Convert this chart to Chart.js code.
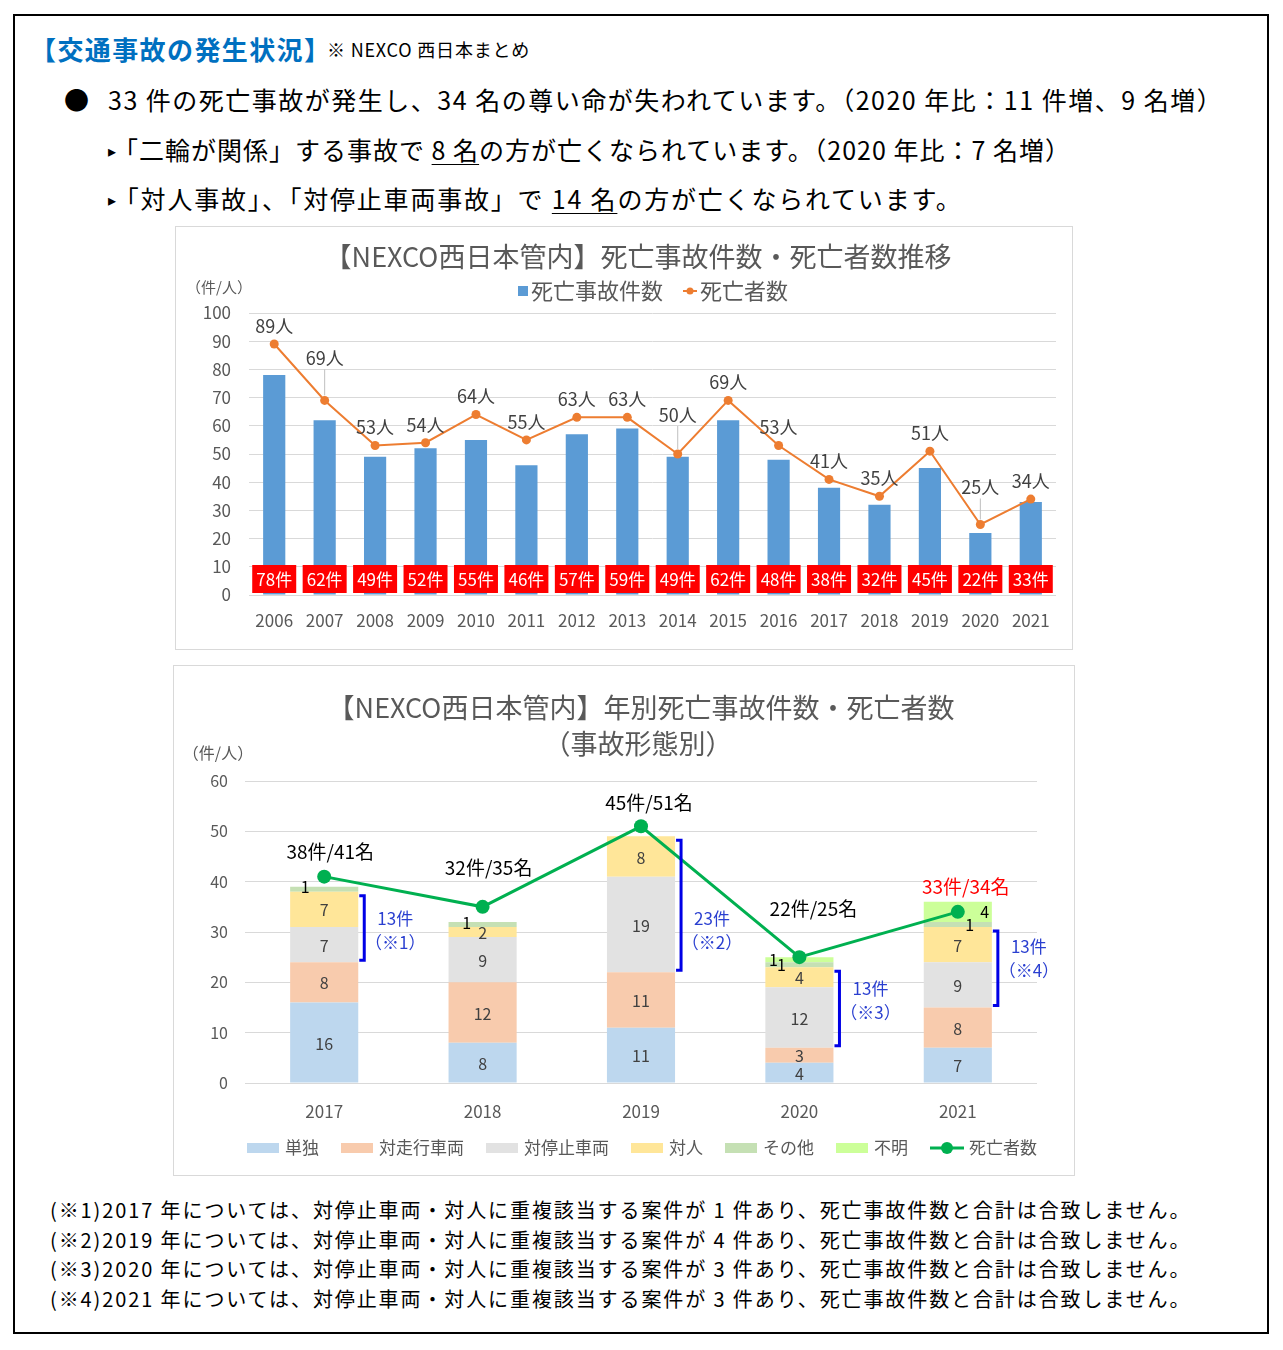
<!DOCTYPE html>
<html lang="ja">
<head>
<meta charset="utf-8">
<title>交通事故の発生状況</title>
<script src="https://cdn.jsdelivr.net/npm/chart.js@4.4.1/dist/chart.umd.min.js"></script>
<style>
  body { margin: 0; background: #fff; font-family: "Noto Sans CJK JP", sans-serif; }
  #page { position: relative; width: 1283px; height: 1350px; overflow: hidden; }
  #frame { position: absolute; left: 13px; top: 14px; width: 1256px; height: 1320px; border: 2px solid #000; box-sizing: border-box; }
  .t { position: absolute; white-space: nowrap; color: #000; line-height: 1; }
  .box { position: absolute; border: 1px solid #D9D9D9; box-sizing: border-box; }
  .box canvas { position: absolute; left: -1px; top: -1px; }
  .note { font-size: 20px; letter-spacing: 1.9px; }
  .tri { font-size: 16px; position: relative; top: -3px; margin-right: -4px; }
  u { text-underline-offset: 4px; text-decoration-thickness: 1px; }
</style>
</head>
<body>
<div id="page">
  <div id="frame"></div>

  <div class="t" style="left:30px; top:36px; font-size:26px; font-weight:bold; color:#0070C0; letter-spacing:1.4px;">【交通事故の発生状況】</div>
  <div class="t" style="left:327px; top:40px; font-size:18px; letter-spacing:0.8px;">※ NEXCO 西日本まとめ</div>

  <div class="t" style="left:64px; top:87px; font-size:25px;">●</div>
  <div class="t" style="left:108px; top:87px; font-size:25px; letter-spacing:1.5px;">33 件の死亡事故が発生し、34 名の尊い命が失われています。（2020 年比：11 件増、9 名増）</div>
  <div class="t" style="left:108px; top:137px; font-size:25px; letter-spacing:1px;"><span class="tri">▸</span>「二輪が関係」する事故で <u>8 名</u>の方が亡くなられています。（2020 年比：7 名増）</div>
  <div class="t" style="left:108px; top:186px; font-size:25px; letter-spacing:1.8px;"><span class="tri">▸</span>「対人事故」、「対停止車両事故」で <u>14 名</u>の方が亡くなられています。</div>

  <div class="box" style="left:175px; top:226px; width:898px; height:424px;">
    <canvas id="trendChart" width="898" height="424"></canvas>
  </div>

  <div class="box" style="left:173px; top:665px; width:902px; height:511px;">
    <canvas id="typeChart" width="902" height="511"></canvas>
  </div>

  <div class="t note" style="left:50px; top:1200px;">(※1)2017 年については、対停止車両・対人に重複該当する案件が 1 件あり、死亡事故件数と合計は合致しません。</div>
  <div class="t note" style="left:50px; top:1230px;">(※2)2019 年については、対停止車両・対人に重複該当する案件が 4 件あり、死亡事故件数と合計は合致しません。</div>
  <div class="t note" style="left:50px; top:1259px;">(※3)2020 年については、対停止車両・対人に重複該当する案件が 3 件あり、死亡事故件数と合計は合致しません。</div>
  <div class="t note" style="left:50px; top:1289px;">(※4)2021 年については、対停止車両・対人に重複該当する案件が 3 件あり、死亡事故件数と合計は合致しません。</div>
</div>

<script>
// ---- data: chart 1 (推移) ----
const years1 = ['2006','2007','2008','2009','2010','2011','2012','2013','2014','2015','2016','2017','2018','2019','2020','2021'];
const accidents1 = [78, 62, 49, 52, 55, 46, 57, 59, 49, 62, 48, 38, 32, 45, 22, 33];
const deaths1 = [89, 69, 53, 54, 64, 55, 63, 63, 50, 69, 53, 41, 35, 51, 25, 34];

// ---- data: chart 2 (事故形態別) ----
const years2 = ['2017','2018','2019','2020','2021'];
const single = [16, 8, 11, 4, 7];
const vsMoving = [8, 12, 11, 3, 8];
const vsStopped = [7, 9, 19, 12, 9];
const vsPerson = [7, 2, 8, 4, 7];
const other = [1, 1, 0, 1, 1];
const unknown = [0, 0, 0, 1, 4];
const accidents2 = [38, 32, 45, 22, 33];
const deaths2 = [41, 35, 51, 25, 34];
const overlapCounts = [13, null, 23, 13, 13];
const overlapNotes = ['※1', null, '※2', '※3', '※4'];

const FONT = "'Noto Sans CJK JP', sans-serif";
Chart.defaults.font.family = FONT;

function font(size, weight) {
    return (weight || 'normal') + ' ' + size + 'px ' + FONT;
}

// labels, red boxes, title and legend for the first chart
const trendPlugin = {
    id: 'trendLabels',
    afterDatasetsDraw(chart) {
        const ctx = chart.ctx;
        const y0 = chart.scales.y.getPixelForValue(0);
        ctx.save();
        ctx.textAlign = 'center';
        ctx.textBaseline = 'middle';

        // red count boxes
        chart.getDatasetMeta(0).data.forEach((bar, i) => {
            ctx.fillStyle = '#FF0000';
            ctx.fillRect(bar.x - 22, y0 - 30, 44, 28);
            ctx.fillStyle = '#fff';
            ctx.font = font(17);
            ctx.fillText(accidents1[i] + '件', bar.x, y0 - 15);
        });

        // death labels (some lifted with a leader line)
        const lifted = { 1: 42, 8: 39, 14: 37 };
        chart.getDatasetMeta(1).data.forEach((pt, i) => {
            const off = lifted[i] || 18;
            if (lifted[i]) {
                ctx.strokeStyle = '#BFBFBF';
                ctx.lineWidth = 1;
                ctx.beginPath();
                ctx.moveTo(pt.x, pt.y - off + 11);
                ctx.lineTo(pt.x, pt.y - 5);
                ctx.stroke();
            }
            ctx.fillStyle = '#404040';
            ctx.font = font(18);
            ctx.fillText(deaths1[i] + '人', pt.x, pt.y - off);
        });
        ctx.restore();
    },
    afterDraw(chart) {
        const ctx = chart.ctx;
        ctx.save();
        ctx.textBaseline = 'middle';
        ctx.fillStyle = '#595959';
        ctx.textAlign = 'center';
        ctx.font = font(27);
        ctx.fillText('【NEXCO西日本管内】死亡事故件数・死亡者数推移', 463, 31);

        ctx.font = font(15);
        ctx.fillText('（件/人）', 44, 61);

        // legend
        ctx.font = font(22);
        ctx.textAlign = 'left';
        const t1 = '死亡事故件数', t2 = '死亡者数';
        const w = 10 + 3 + ctx.measureText(t1).width + 20 + 14 + 3 + ctx.measureText(t2).width;
        let x = 478 - w / 2;
        const y = 65;
        ctx.fillStyle = '#5B9BD5';
        ctx.fillRect(x, y - 5, 10, 10);
        x += 13;
        ctx.fillStyle = '#595959';
        ctx.fillText(t1, x, y);
        x += ctx.measureText(t1).width + 20;
        ctx.strokeStyle = '#ED7D31';
        ctx.lineWidth = 2;
        ctx.beginPath();
        ctx.moveTo(x, y);
        ctx.lineTo(x + 14, y);
        ctx.stroke();
        ctx.fillStyle = '#ED7D31';
        ctx.beginPath();
        ctx.arc(x + 7, y, 3.5, 0, Math.PI * 2);
        ctx.fill();
        x += 17;
        ctx.fillStyle = '#595959';
        ctx.fillText(t2, x, y);
        ctx.restore();
    }
};

new Chart(document.getElementById('trendChart'), {
    type: 'bar',
    data: {
        labels: years1,
        datasets: [{
            label: '死亡事故件数',
            data: accidents1,
            backgroundColor: '#5B9BD5',
            barPercentage: 0.44,
            categoryPercentage: 1,
            order: 1
        }, {
            type: 'line',
            label: '死亡者数',
            data: deaths1,
            borderColor: '#ED7D31',
            backgroundColor: '#ED7D31',
            borderWidth: 2,
            pointRadius: 4.5,
            pointBorderWidth: 0,
            tension: 0,
            order: 0
        }]
    },
    options: {
        responsive: false,
        animation: false,
        layout: { padding: { top: 87, right: 17, left: 0, bottom: 0 } },
        plugins: { legend: { display: false }, tooltip: { enabled: false } },
        scales: {
            x: {
                grid: { display: false, drawTicks: false },
                border: { display: false },
                ticks: { color: '#595959', font: { size: 17 }, padding: 15 },
                afterFit(scale) { scale.height = 55; }
            },
            y: {
                min: 0, max: 100,
                ticks: { stepSize: 10, color: '#595959', font: { size: 17 }, padding: 18 },
                grid: { color: '#D9D9D9', drawTicks: false },
                border: { display: false },
                afterFit(scale) { scale.width = 74; }
            }
        }
    },
    plugins: [trendPlugin]
});

// labels, brackets, title and legend for the second chart
const typePlugin = {
    id: 'typeLabels',
    afterDatasetsDraw(chart) {
        const ctx = chart.ctx;
        ctx.save();
        ctx.textAlign = 'center';
        ctx.textBaseline = 'middle';

        // values inside the main segments
        [0, 1, 2, 3].forEach(d => {
            const vals = chart.data.datasets[d].data;
            chart.getDatasetMeta(d).data.forEach((bar, i) => {
                if (!vals[i]) return;
                ctx.fillStyle = '#404040';
                ctx.font = font(16);
                ctx.fillText(vals[i], bar.x, (bar.y + bar.base) / 2 + 1);
            });
        });

        // small segments (その他 / 不明), placed beside
        const sideOff = { 4: [-19, -16, 0, -18, 12], 5: [0, 0, 0, -26, 27] };
        [4, 5].forEach(d => {
            const vals = chart.data.datasets[d].data;
            chart.getDatasetMeta(d).data.forEach((bar, i) => {
                if (!vals[i]) return;
                ctx.fillStyle = '#000';
                ctx.font = font(16);
                const dy = d === 4 && i < 2 ? -2 : 0;
                ctx.fillText(vals[i], bar.x + sideOff[d][i], (bar.y + bar.base) / 2 + dy);
            });
        });

        // blue brackets for 対停止車両 + 対人
        const stopped = chart.getDatasetMeta(2).data;
        const person = chart.getDatasetMeta(3).data;
        const textShift = [2, 0, 24, -9, -11];
        overlapCounts.forEach((n, i) => {
            if (!n) return;
            const right = person[i].x + person[i].width / 2;
            const top = person[i].y + 4;
            const bottom = stopped[i].base - 2;
            const vx = right + 6;
            ctx.strokeStyle = '#0000E6';
            ctx.lineWidth = 3;
            ctx.beginPath();
            ctx.moveTo(right + 1, top);
            ctx.lineTo(vx, top);
            ctx.lineTo(vx, bottom);
            ctx.lineTo(right + 1, bottom);
            ctx.stroke();
            const mid = (top + bottom) / 2 + textShift[i];
            ctx.fillStyle = '#2A3FD0';
            ctx.font = font(17);
            ctx.fillText(n + '件', vx + 31, mid - 11);
            ctx.fillText('（' + overlapNotes[i] + '）', vx + 31, mid + 13);
        });

        // 件/名 labels over the line
        const lift = [25, 39, 24, 48, 25];
        const shift = [6, 6, 8, 14, 8];
        chart.getDatasetMeta(6).data.forEach((pt, i) => {
            ctx.fillStyle = i === years2.length - 1 ? '#FF0000' : '#000';
            ctx.font = font(19);
            ctx.fillText(accidents2[i] + '件/' + deaths2[i] + '名', pt.x + shift[i], pt.y - lift[i]);
        });
        ctx.restore();
    },
    afterDraw(chart) {
        const ctx = chart.ctx;
        ctx.save();
        ctx.textBaseline = 'middle';
        ctx.textAlign = 'center';
        ctx.fillStyle = '#595959';
        ctx.font = font(27);
        ctx.fillText('【NEXCO西日本管内】年別死亡事故件数・死亡者数', 468, 43);
        ctx.fillText('（事故形態別）', 465, 79);
        ctx.font = font(16);
        ctx.fillText('（件/人）', 45, 88);

        // legend
        ctx.font = font(17);
        ctx.textAlign = 'left';
        const items = chart.data.datasets.map(ds => ({
            text: ds.label,
            color: ds.backgroundColor,
            line: ds.type === 'line'
        }));
        let w = 0;
        items.forEach((it, k) => {
            w += (it.line ? 34 + 5 : 32 + 6) + ctx.measureText(it.text).width + (k ? 22 : 0);
        });
        let x = 469 - w / 2;
        const y = 483;
        items.forEach(it => {
            if (it.line) {
                ctx.strokeStyle = it.color;
                ctx.lineWidth = 3;
                ctx.beginPath();
                ctx.moveTo(x, y);
                ctx.lineTo(x + 34, y);
                ctx.stroke();
                ctx.fillStyle = it.color;
                ctx.beginPath();
                ctx.arc(x + 17, y, 6, 0, Math.PI * 2);
                ctx.fill();
                x += 39;
            } else {
                ctx.fillStyle = it.color;
                ctx.fillRect(x, y - 5, 32, 10);
                x += 38;
            }
            ctx.fillStyle = '#595959';
            ctx.fillText(it.text, x, y);
            x += ctx.measureText(it.text).width + 22;
        });
        ctx.restore();
    }
};

function stackSet(label, data, color) {
    return {
        label: label,
        data: data,
        backgroundColor: color,
        stack: 'types',
        barPercentage: 0.43,
        categoryPercentage: 1,
        order: 1
    };
}

new Chart(document.getElementById('typeChart'), {
    type: 'bar',
    data: {
        labels: years2,
        datasets: [
            stackSet('単独', single, '#BDD7EE'),
            stackSet('対走行車両', vsMoving, '#F8CBAD'),
            stackSet('対停止車両', vsStopped, '#E2E2E2'),
            stackSet('対人', vsPerson, '#FFE699'),
            stackSet('その他', other, '#C5E0B4'),
            stackSet('不明', unknown, '#CCFF99'),
            {
                type: 'line',
                label: '死亡者数',
                data: deaths2,
                stack: 'deaths',
                borderColor: '#00B050',
                backgroundColor: '#00B050',
                borderWidth: 3,
                pointRadius: 7,
                pointBorderWidth: 0,
                tension: 0,
                order: 0
            }
        ]
    },
    options: {
        responsive: false,
        animation: false,
        layout: { padding: { top: 116, right: 38, left: 0, bottom: 0 } },
        plugins: { legend: { display: false }, tooltip: { enabled: false } },
        scales: {
            x: {
                stacked: true,
                grid: { display: false, drawTicks: false },
                border: { display: false },
                ticks: { color: '#595959', font: { size: 17 }, padding: 18 },
                afterFit(scale) { scale.height = 93; }
            },
            y: {
                stacked: true,
                min: 0, max: 60,
                ticks: { stepSize: 10, color: '#595959', font: { size: 16 }, padding: 17 },
                grid: { color: '#D9D9D9', drawTicks: false },
                border: { display: false },
                afterFit(scale) { scale.width = 72; }
            }
        }
    },
    plugins: [typePlugin]
});
</script>
</body>
</html>
